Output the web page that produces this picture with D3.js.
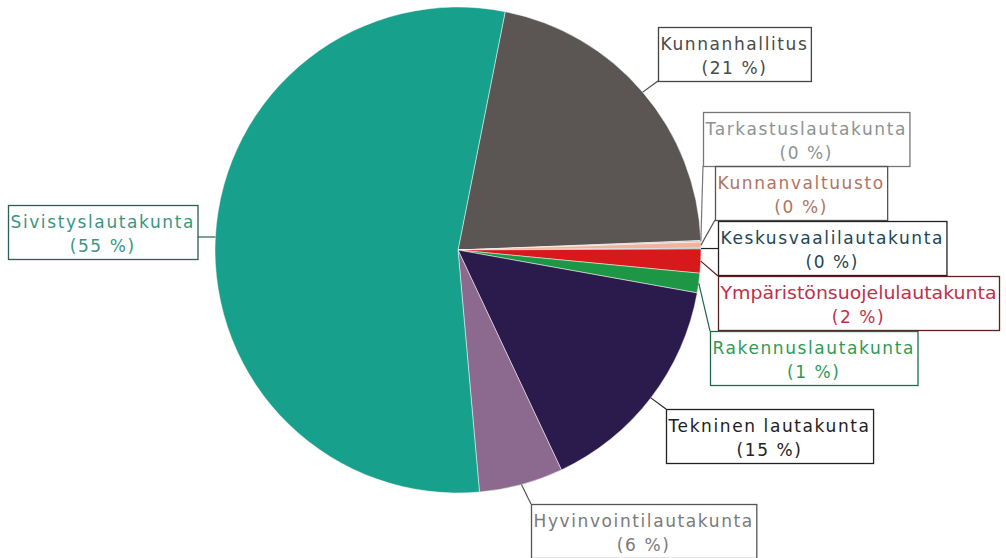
<!DOCTYPE html>
<html>
<head>
<meta charset="utf-8">
<script src="https://cdn.jsdelivr.net/npm/d3@7"></script>
<style>
  html, body { margin: 0; padding: 0; background: #fff; }
  svg text { font-family: "DejaVu Sans", Verdana, sans-serif; font-size: 17px; letter-spacing: 1.6px; }
</style>
</head>
<body>
<div id="chart"></div>
<script>
// budget share per board (in %)
const names = [
  'Kunnanhallitus', 'Tarkastuslautakunta', 'Kunnanvaltuusto', 'Keskusvaalilautakunta',
  'Ympäristönsuojelulautakunta', 'Rakennuslautakunta', 'Tekninen lautakunta',
  'Hyvinvointilautakunta', 'Sivistyslautakunta',
];
const values = [21.3, 0.1, 0.4, 0.05, 1.6, 1.3, 15.2, 5.6, 54.6];

const sliceColors = ['#5b5654', '#c4c4c4', '#f0b49c', '#1f4e5f', '#d7191b', '#1d9745', '#2b1b4d', '#8c6a90', '#17a08b'];
const textColors = ['#4a4a4a', '#8a9494', '#b07462', '#1d4656', '#c0304a', '#2f9a55', '#222', '#7a7a7a', '#3a9585'];
const borderColors = ['#444', '#777', '#555', '#222', '#5a2020', '#1f6a4a', '#222', '#555', '#2c5f55'];

// label box placement (left, top)
const labelLayout = [
  [658, 27], [703, 112], [715, 166], [718, 221], [718, 276],
  [710, 331], [666, 409], [531, 504], [8, 205],
];

function translate(x, y) {
  return `translate(${x},${y})`;
}

const width = 1006;
const height = 558;
const cx = 458;
const cy = 250;
const radius = 243;
const startAngle = 11.2 * Math.PI / 180;

const total = d3.sum(values);
const data = names.map((n, i) => ({ name: n, value: values[i], i }));

const svg = d3.select('#chart').append('svg')
  .attr('width', width)
  .attr('height', height);

const pie = d3.pie()
  .sort(null)
  .value(d => d.value)
  .startAngle(startAngle)
  .endAngle(startAngle + 2 * Math.PI);

const arcs = pie(data);
const arc = d3.arc().innerRadius(0).outerRadius(radius);
const edge = d3.arc().innerRadius(radius).outerRadius(radius);

const g = svg.append('g').attr('transform', translate(cx, cy));

g.selectAll('path.slice')
  .data(arcs)
  .enter()
  .append('path')
  .attr('class', 'slice')
  .attr('d', arc)
  .attr('fill', d => sliceColors[d.data.i])
  .attr('stroke', '#fff')
  .attr('stroke-opacity', 0.6)
  .attr('stroke-width', 0.8);

// labels
const labels = svg.append('g');

arcs.forEach((d) => {
  const i = d.data.i;
  const pct = Math.round((d.data.value / total) * 100);
  const [bx, by] = labelLayout[i];
  const lg = labels.append('g');

  const t1 = lg.append('text')
    .attr('fill', textColors[i])
    .attr('text-anchor', 'middle')
    .text(d.data.name);
  const t2 = lg.append('text')
    .attr('fill', textColors[i])
    .attr('text-anchor', 'middle')
    .text(`(${pct} %)`);

  let tw = Math.max(t1.node().getComputedTextLength(), t2.node().getComputedTextLength());
  // squeeze the text if the box would run off the right edge
  const maxW = width - 12 - bx;
  if (tw > maxW) {
    t1.style('letter-spacing', '0px')
      .attr('textLength', maxW)
      .attr('lengthAdjust', 'spacingAndGlyphs');
    tw = maxW;
  }
  const bw = tw + 5;
  const bh = 54;
  const midX = bx + bw / 2;
  t1.attr('x', midX).attr('y', by + 23);
  t2.attr('x', midX).attr('y', by + 47);

  lg.insert('rect', 'text')
    .attr('x', bx + 0.5)
    .attr('y', by + 0.5)
    .attr('width', bw)
    .attr('height', bh)
    .attr('fill', 'none')
    .attr('stroke', borderColors[i])
    .attr('stroke-width', 1.3);

  // leader from slice edge to the nearest point of the box
  const [ex, ey] = edge.centroid(d);
  const ax = cx + ex;
  const ay = cy + ey;
  const px = Math.max(bx, Math.min(ax, bx + bw));
  const py = Math.max(by, Math.min(ay, by + bh));
  lg.append('path')
    .attr('d', `M${ax},${ay}L${px},${py}`)
    .attr('stroke', borderColors[i])
    .attr('stroke-width', 1.2)
    .attr('fill', 'none');
});
</script>
</body>
</html>
